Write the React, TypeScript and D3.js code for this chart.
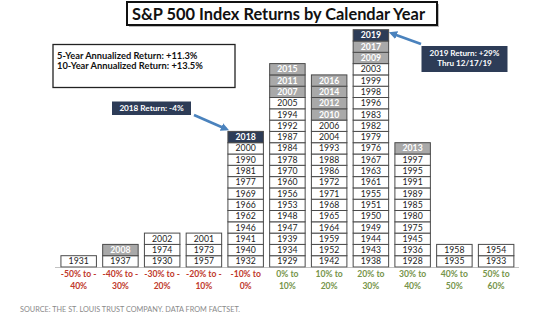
import React from "react";
import * as d3 from "d3";

const categories = ["-50% to -40%", "-40% to -30%", "-30% to -20%", "-20% to -10%", "-10% to 0%", "0% to 10%", "10% to 20%", "20% to 30%", "30% to 40%", "40% to 50%", "50% to 60%"];
const labelLine1 = ["-50% to -", "-40% to -", "-30% to -", "-20% to -", "-10% to", "0% to", "10% to", "20% to", "30% to", "40% to", "50% to"];
const labelLine2 = ["40%", "30%", "20%", "10%", "0%", "10%", "20%", "30%", "40%", "50%", "60%"];

// years per bin, listed bottom to top
const bin1 = [1931];
const bin2 = [1937, 2008];
const bin3 = [1930, 1974, 2002];
const bin4 = [1957, 1973, 2001];
const bin5 = [1932, 1940, 1941, 1946, 1962, 1966, 1969, 1977, 1981, 1990, 2000, 2018];
const bin6 = [1929, 1934, 1939, 1947, 1948, 1953, 1956, 1960, 1970, 1978, 1984, 1987, 1992, 1994, 2005, 2007, 2011, 2015];
const bin7 = [1942, 1952, 1959, 1964, 1965, 1968, 1971, 1972, 1986, 1988, 1993, 2004, 2006, 2010, 2012, 2014, 2016];
const bin8 = [1938, 1943, 1944, 1949, 1950, 1951, 1955, 1961, 1963, 1967, 1976, 1979, 1982, 1983, 1996, 1998, 1999, 2003, 2009, 2017, 2019];
const bin9 = [1928, 1936, 1945, 1975, 1980, 1985, 1989, 1991, 1995, 1997, 2013];
const bin10 = [1935, 1958];
const bin11 = [1933, 1954];
const bins = [bin1, bin2, bin3, bin4, bin5, bin6, bin7, bin8, bin9, bin10, bin11];

const grayYears = [2008, 2007, 2011, 2015, 2010, 2012, 2014, 2016, 2009, 2017, 2013];
const darkYears = [2018, 2019];
const statLines = ["5-Year Annualized Return: +11.3%", "10-Year Annualized Return: +13.5%"];

const W = 540;
const H = 327;
const FONT = "Lato, 'Open Sans', sans-serif";
const NAVY = "#2d3c57";
const GRAY = "#a9a9a9";
const ARROW = "#4a82bd";

export default function App() {
  const x = d3.scaleBand<string>().domain(categories).range([57.8, 517]).paddingInner(0.15).paddingOuter(0.075);
  const y = d3.scaleLinear().domain([0, 21]).range([267, 29.7]);
  const rowH = y(0) - y(1);

  return (
    <svg width={W} height={H} style={{ position: "absolute", left: 0, top: 0, background: "#fff" }} fontFamily={FONT}>
      <defs>
        <marker id="ah" viewBox="0 0 10 10" refX="6" refY="5" markerWidth="3.2" markerHeight="3.2" orient="auto-start-reverse">
          <path d="M0,0 L10,5 L0,10 z" fill={ARROW} />
        </marker>
      </defs>
      {/* title */}
      <rect x={129} y={4} width={310} height={23} fill="#bbb" />
      <rect x={127} y={2} width={310} height={23} fill="#fff" stroke="#111" strokeWidth={2} />
      <text x={132} y={20} fontSize={17} fontWeight={700} fill="#111" textLength={293} lengthAdjust="spacingAndGlyphs">S&amp;P 500 Index Returns by Calendar Year</text>

      {/* stats box */}
      <rect x={53} y={44.5} width={182} height={43} fill="#fff" stroke="#222" strokeWidth={1.3} />
      {statLines.map((s, i) => (
        <text key={s} x={57} y={58.5 + i * 10.5} fontSize={9.3} fontWeight={700} fill="#111">{s}</text>
      ))}

      {/* columns */}
      {bins.map((years, ci) =>
        years.map((yr, ri) => {
          const cat = categories[ci];
          const isGray = grayYears.includes(yr);
          const isDark = darkYears.includes(yr);
          const fill = isDark ? NAVY : isGray ? GRAY : "#fff";
          return (
            <g key={`${ci}-${yr}`}>
              <rect x={x(cat)!} y={y(ri + 1)} width={x.bandwidth()} height={rowH} fill={fill} stroke="#4a4a4a" strokeWidth={1} />
              <text x={x(cat)! + x.bandwidth() / 2} y={y(ri + 0.5) + 3.1} textAnchor="middle" fontSize={8.7} fontWeight={isDark || isGray ? 700 : 400} fill={isDark || isGray ? "#fff" : "#222"}>{yr}</text>
            </g>
          );
        })
      )}

      {/* baseline */}
      <line x1={55} x2={519} y1={y(0) + 0.5} y2={y(0) + 0.5} stroke="#999" strokeWidth={0.6} />

      {/* bin labels */}
      {categories.map((c, i) => {
        const cx = x(c)! + x.bandwidth() / 2;
        const neg = i < 5;
        const col = neg ? "#c0392b" : "#76944a";
        return (
          <g key={c}>
            <text x={cx} y={276.5} textAnchor="middle" fontSize={8.6} fontWeight={700} fill={col}>{labelLine1[i]}</text>
            <text x={cx} y={288.5} textAnchor="middle" fontSize={8.6} fontWeight={700} fill={col}>{labelLine2[i]}</text>
          </g>
        );
      })}

      {/* 2018 callout */}
      <rect x={112} y={101.5} width={79} height={13.5} fill={NAVY} />
      <text x={151.5} y={111.2} textAnchor="middle" fontSize={8.2} fontWeight={700} fill="#fff">2018 Return: -4%</text>
      <line x1={194} y1={115} x2={226} y2={129} stroke={ARROW} strokeWidth={2.6} markerEnd="url(#ah)" />

      {/* 2019 callout */}
      <rect x={421.5} y={46} width={86} height={26} fill={NAVY} />
      <text x={464.5} y={56.3} textAnchor="middle" fontSize={8.1} fontWeight={700} fill="#fff">2019 Return: +29%</text>
      <text x={464.5} y={66.3} textAnchor="middle" fontSize={8.1} fontWeight={700} fill="#fff">Thru 12/17/19</text>
      <line x1={421} y1={44} x2={392} y2={33.5} stroke={ARROW} strokeWidth={2.6} markerEnd="url(#ah)" />

      {/* source */}
      <text x={20} y={312} fontSize={7} fill="#8a8a8a" textLength={220} lengthAdjust="spacingAndGlyphs">SOURCE: THE ST. LOUIS TRUST COMPANY. DATA FROM FACTSET.</text>
    </svg>
  );
}
